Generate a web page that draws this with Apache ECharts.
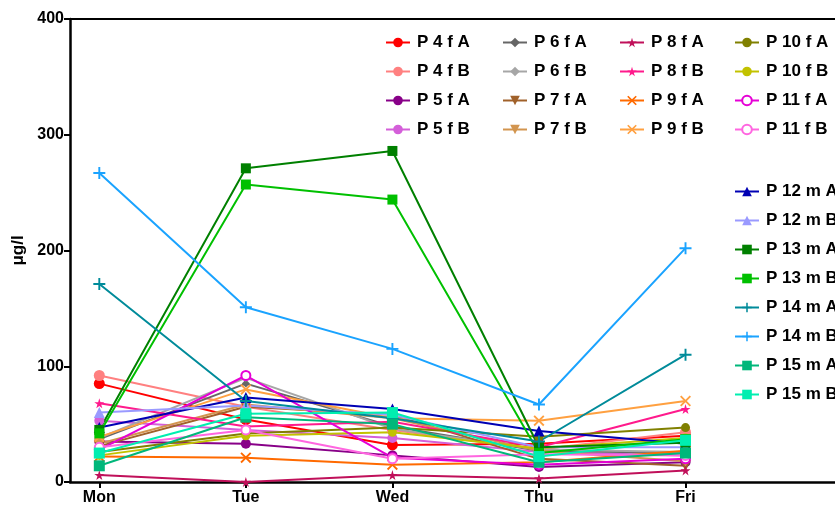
<!DOCTYPE html>
<html><head><meta charset="utf-8">
<script src="https://cdn.jsdelivr.net/npm/echarts@6/dist/echarts.min.js"></script>
<style>html,body{margin:0;padding:0;background:#fff}#c{width:835px;height:506px}</style>
</head><body><div id="c"></div>
<script>
const days = ['Mon','Tue','Wed','Thu','Fri'];
const yTicks = [0,100,200,300,400];
const seriesNames = ['P 4 f A','P 4 f B','P 5 f A','P 5 f B','P 6 f A','P 6 f B','P 7 f A','P 7 f B',
  'P 8 f A','P 8 f B','P 9 f A','P 9 f B','P 10 f A','P 10 f B','P 11 f A','P 11 f B',
  'P 12 m A','P 12 m B','P 13 m A','P 13 m B','P 14 m A','P 14 m B','P 15 m A','P 15 m B'];
const p4fA  = [85, 54, 32, 33, 40];
const p4fB  = [92, 65, 45, 28, 43];
const p5fA  = [35, 33, 23, 13, 17];
const p5fB  = [53, 45, 38, 26, 23];
const p6fA  = [37, 85, 48, 27, 25];
const p6fB  = [38, 90, 46, 28, 26];
const p7fA  = [31, 65, 58, 20, 14];
const p7fB  = [33, 67, 55, 27, 18];
const p8fA  = [6, 0, 6, 3, 10];
const p8fB  = [68, 48, 52, 30, 63];
const p9fA  = [22, 21, 15, 17, 27];
const p9fB  = [39, 80, 55, 53, 70];
const p10fA = [26, 42, 47, 39, 47];
const p10fB = [23, 40, 43, 29, 38];
const p11fA = [28, 92, 21, 15, 20];
const p11fB = [30, 45, 20, 24, 23];
const p12mA = [47, 73, 63, 44, 33];
const p12mB = [60, 66, 58, 30, 30];
const p13mA = [45, 271, 286, 30, 34];
const p13mB = [42, 257, 244, 25, 37];
const p14mA = [171, 70, 55, 35, 110];
const p14mB = [267, 151, 115, 67, 202];
const p15mA = [14, 56, 50, 17, 25];
const p15mB = [25, 59, 60, 22, 36];
const allValues = [p4fA,p4fB,p5fA,p5fB,p6fA,p6fB,p7fA,p7fB,p8fA,p8fB,p9fA,p9fB,p10fA,p10fB,p11fA,p11fB,
  p12mA,p12mB,p13mA,p13mB,p14mA,p14mB,p15mA,p15mB];

const colors = ['#ff0000','#ff8080','#880088','#d45fd9','#666666','#a6a6a6','#a0612a','#d2954f',
  '#c0105a','#ff1a8c','#ff6a00','#ffa040','#808000','#c2c200','#e600d6','#ff66e0',
  '#0000b4','#9a9aff','#008000','#00c000','#008b9a','#1aa3ff','#00b77a','#00eeb0'];
const STAR = 'path://M50,0 L61,35 L98,35 L68,57 L79,91 L50,70 L21,91 L32,57 L2,35 L39,35 Z';
const XS = 'path://M0,12 L12,0 L50,38 L88,0 L100,12 L62,50 L100,88 L88,100 L50,62 L12,100 L0,88 L38,50 Z';
const PLUS = 'path://M42,0 H58 V42 H100 V58 H58 V100 H42 V58 H0 V42 H42 Z';
const TRIDOWN = 'path://M0,0 L100,0 L50,90 Z';
const symbols = ['circle','circle','circle','circle','diamond','diamond',TRIDOWN,TRIDOWN,
  STAR,STAR,XS,XS,'circle','circle','emptyCircle','emptyCircle',
  'triangle','triangle','rect','rect',PLUS,PLUS,'rect','rect'];
const sizes = [11,11,10,10,8,8,11,11,10,10,11,11,9,9,9,9,11,11,10,10,12,12,11,11];

const chart = echarts.init(document.getElementById('c'), null, {renderer:'canvas'});
const FONT = '"Liberation Sans", Arial, sans-serif';
const series = seriesNames.map((n,i)=>({
  name:n, type:'line', data: allValues[i].map((v,k)=>[k,v]),
  symbol: symbols[i], symbolSize: sizes[i],
  itemStyle:{color:colors[i], borderWidth: symbols[i]==='emptyCircle'?2:0},
  lineStyle:{color:colors[i], width:2}, emphasis:{disabled:true}, animation:false
}));
function legendCol(names, left, top){
  return {orient:'vertical', left:left, top:top, data:names, itemWidth:24, itemHeight:12, itemGap:12,
    textStyle:{fontFamily:FONT, fontWeight:'bold', fontSize:17, color:'#000', padding:[0,0,0,2]}, selectedMode:false};
}
chart.setOption({
  animation:false,
  grid:{left:70, right:0, top:19, bottom:24, containLabel:false},
  legend:[
    legendCol(seriesNames.slice(0,4), 380, 29),
    legendCol(seriesNames.slice(4,8), 497, 29),
    legendCol(seriesNames.slice(8,12), 614, 29),
    legendCol(seriesNames.slice(12,16), 729, 29),
    legendCol(seriesNames.slice(16,24), 729, 178)
  ],
  xAxis:[{type:'value', min:-0.2, max:5.02, position:'bottom',
    axisLine:{onZero:false, lineStyle:{color:'#000', width:2.5}},
    axisTick:{show:true, customValues:[0,1,2,3,4], length:6, lineStyle:{color:'#000', width:2}},
    axisLabel:{customValues:[0,1,2,3,4], formatter:(v)=>days[Math.round(v)]||'', color:'#000', fontFamily:FONT, fontWeight:'bold', fontSize:16, margin:8},
    splitLine:{show:false}},
   {type:'value', min:-0.2, max:5.02, position:'top',
    axisLine:{onZero:false, lineStyle:{color:'#000', width:2}}, axisTick:{show:false}, axisLabel:{show:false}, splitLine:{show:false}}],
  yAxis:{type:'value', min:yTicks[0], max:yTicks[yTicks.length-1], interval:100, position:'left',
    name:'μg/l', nameLocation:'middle', nameGap:43, nameRotate:90,
    nameTextStyle:{color:'#000', fontFamily:FONT, fontWeight:'bold', fontSize:17},
    axisLine:{show:true, onZero:false, lineStyle:{color:'#000', width:2.5}},
    axisTick:{show:true, length:6, lineStyle:{color:'#000', width:2}},
    axisLabel:{color:'#000', fontFamily:FONT, fontWeight:'bold', fontSize:16, margin:6},
    splitLine:{show:false}},
  series: series
});
</script></body></html>
